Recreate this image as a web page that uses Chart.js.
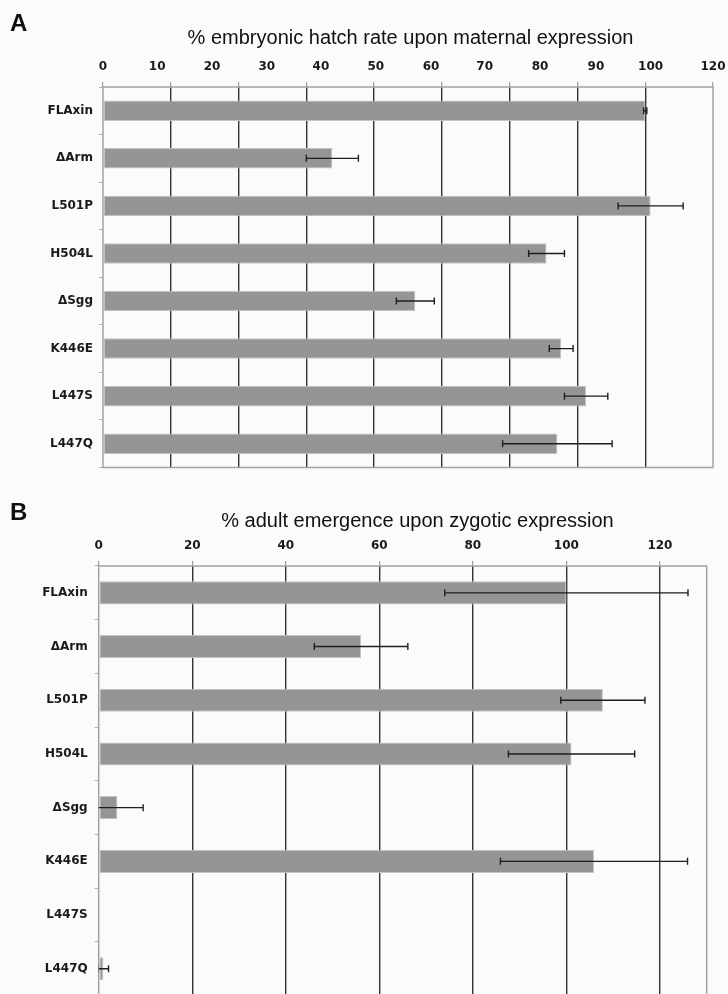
<!DOCTYPE html>
<html>
<head>
<meta charset="utf-8">
<script src="https://cdn.jsdelivr.net/npm/chart.js@4.4.1/dist/chart.umd.min.js"></script>
<style>
  html, body { margin: 0; padding: 0; background: #fbfbfb; overflow: hidden; }
  body { width: 728px; height: 994px; position: relative; }
  canvas { position: absolute; left: 0; }
  #chartA { top: 0; }
  #chartB { top: 480px; }
</style>
</head>
<body>
<canvas id="chartA" width="728" height="480"></canvas>
<canvas id="chartB" width="728" height="520"></canvas>
<script>
const categories = ['FLAxin', 'ΔArm', 'L501P', 'H504L', 'ΔSgg', 'K446E', 'L447S', 'L447Q'];

// A: embryonic hatch rate (maternal)
const hatchRate = [100, 42.3, 101, 81.8, 57.6, 84.5, 89.1, 83.8];
const hatchErr = [0.3, 4.8, 6.0, 3.3, 3.5, 2.2, 4.0, 10.1];
// labels in the original sit slightly off the 10-steps, read as they appear
const xTickValuesA = [0, 10, 20.1, 30.2, 40.2, 50.3, 60.5, 70.4, 80.6, 90.9, 101, 112.5];
const xTickLabelsA = ['0', '10', '20', '30', '40', '50', '60', '70', '80', '90', '100', '120'];
const gridStepA = 12.5;
const xMaxA = 112.5;

// B: adult emergence (zygotic)
const emergence = [100, 56.1, 107.8, 101.1, 4.0, 105.9, 0, 1.0];
const emergenceErr = [26, 10, 9, 13.5, 5.5, 20, 0, 1.1];
const xTickValuesB = [0, 20, 40, 60, 80, 100, 120];
const xTickLabelsB = ['0', '20', '40', '60', '80', '100', '120'];
const gridStepB = 20;
const xMaxB = 130;

const tickFont = { family: '"DejaVu Sans", Verdana, sans-serif', size: 12, weight: 'bold' };
const gridDark = '#333333';
const frameGray = '#a3a3a3';

// error bars + frame + panel texts
const decorPlugin = {
  id: 'decor',
  beforeDatasetsDraw(chart) {
    const a = chart.chartArea, ctx = chart.ctx;
    ctx.save();
    ctx.strokeStyle = frameGray;
    ctx.lineWidth = 1.5;
    ctx.strokeRect(a.left, a.top, a.right - a.left, a.bottom - a.top);
    ctx.restore();
  },
  afterDatasetsDraw(chart, args, opts) {
    const ctx = chart.ctx, a = chart.chartArea, xs = chart.scales.x;
    const vals = chart.data.datasets[0].data;
    const meta = chart.getDatasetMeta(0);
    ctx.save();
    ctx.beginPath();
    ctx.rect(a.left, a.top - 1, a.right - a.left, a.bottom - a.top + 2);
    ctx.clip();
    ctx.strokeStyle = '#1e1e1e';
    ctx.lineWidth = 1.4;
    opts.errors.forEach((e, i) => {
      if (!e) return;
      const y = meta.data[i].y;
      const x0 = xs.getPixelForValue(vals[i] - e);
      const x1 = xs.getPixelForValue(vals[i] + e);
      ctx.beginPath();
      ctx.moveTo(x0, y); ctx.lineTo(x1, y);
      ctx.moveTo(x0, y - 3.5); ctx.lineTo(x0, y + 3.5);
      ctx.moveTo(x1, y - 3.5); ctx.lineTo(x1, y + 3.5);
      ctx.stroke();
    });
    ctx.restore();
  },
  afterDraw(chart, args, opts) {
    const ctx = chart.ctx;
    ctx.save();
    ctx.fillStyle = '#111';
    ctx.textBaseline = 'alphabetic';
    ctx.textAlign = 'left';
    ctx.font = 'bold 24px "Liberation Sans", Arial, sans-serif';
    ctx.fillText(opts.letter, 10, opts.letterY);
    ctx.textAlign = 'center';
    ctx.font = '20px "Liberation Sans", Arial, sans-serif';
    ctx.fillText(opts.title, opts.titleX, opts.titleY);
    ctx.restore();
  }
};

function makePanel(canvasId, values, errors, tickValues, tickLabels, gridStep, xMax, pad, yWidth, yPad, texts) {
  const onStep = v => Math.abs(v / gridStep - Math.round(v / gridStep)) < 1e-9;
  const isGrid = v => v > 0 && v < xMax && onStep(v);
  const isMark = v => onStep(v) || v === xMax;
  return new Chart(document.getElementById(canvasId), {
    type: 'bar',
    data: {
      labels: categories,
      datasets: [{
        data: values,
        backgroundColor: '#959595',
        borderColor: '#c4c4c4',
        borderWidth: 1,
        borderSkipped: false,
        categoryPercentage: 1,
        barPercentage: 0.43
      }]
    },
    options: {
      indexAxis: 'y',
      responsive: false,
      animation: false,
      devicePixelRatio: 1,
      layout: { padding: pad },
      plugins: {
        legend: { display: false },
        tooltip: { enabled: false },
        decor: Object.assign({ errors: errors }, texts)
      },
      scales: {
        x: {
          type: 'linear',
          position: 'top',
          min: 0,
          max: xMax,
          afterBuildTicks: s => {
            const set = new Set(tickValues);
            for (let v = 0; v <= xMax + 1e-9; v += gridStep) set.add(v);
            s.ticks = [...set].sort((p, q) => p - q).map(v => ({ value: v }));
          },
          afterFit: s => { s.height = 28; s.paddingLeft = 0; s.paddingRight = 0; },
          ticks: {
            autoSkip: false,
            maxRotation: 0,
            padding: 8,
            font: tickFont,
            color: '#1a1a1a',
            callback: v => {
              const i = tickValues.indexOf(v);
              return i >= 0 ? tickLabels[i] : '';
            }
          },
          grid: {
            lineWidth: 1.4,
            color: c => (c.tick && isGrid(c.tick.value)) ? gridDark : 'rgba(0,0,0,0)',
            tickColor: c => (c.tick && isMark(c.tick.value)) ? '#8a8a8a' : 'rgba(0,0,0,0)',
            tickLength: 5,
            tickWidth: 1
          },
          border: { display: false }
        },
        y: {
          afterFit: s => { s.width = yWidth; s.paddingTop = 0; s.paddingBottom = 0; },
          ticks: { font: tickFont, color: '#1a1a1a', padding: yPad },
          grid: {
            drawOnChartArea: false,
            offset: true,
            tickLength: 4,
            tickColor: '#b0b0b0'
          },
          border: { display: false }
        }
      }
    },
    plugins: [decorPlugin]
  });
}

makePanel('chartA', hatchRate, hatchErr, xTickValuesA, xTickLabelsA, gridStepA, xMaxA,
  { top: 59, left: 0, right: 15, bottom: 12.5 }, 103, 6,
  { letter: 'A', letterY: 31, title: '% embryonic hatch rate upon maternal expression', titleX: 410.5, titleY: 43.5 });

makePanel('chartB', emergence, emergenceErr, xTickValuesB, xTickLabelsB, gridStepB, xMaxB,
  { top: 58, left: 0, right: 21.3, bottom: 4.4 }, 98.7, 7,
  { letter: 'B', letterY: 40, title: '% adult emergence upon zygotic expression', titleX: 417.5, titleY: 47.3 });
</script>
</body>
</html>
